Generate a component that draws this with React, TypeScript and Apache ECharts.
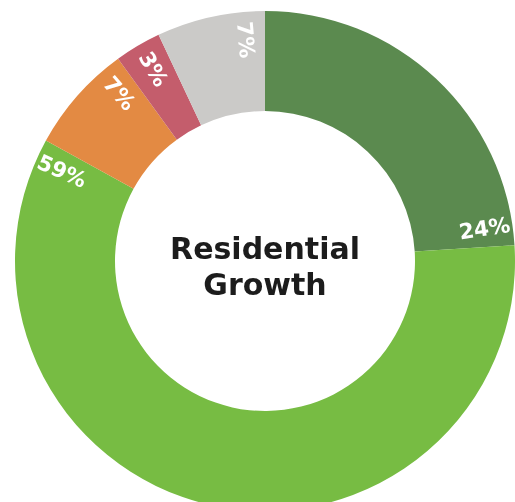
import React, { useEffect, useRef } from "react";
import * as echarts from "echarts";

const categories = ["A", "B", "C", "D", "E"];
const values = [24, 59, 7, 3, 7];
const colors = ["#5b8a4f", "#77bc43", "#e38a43", "#c45d6c", "#cbcac8"];
const titleLines = ["Residential", "Growth"];

const W = 515;
const H = 502;
const CX = 265;
const CY = 261;
const R_IN = 150;
const R_OUT = 250;
const LABEL_R = 222;
const LABEL_BACK_PX = 19;

export default function App() {
  const ref = useRef<HTMLDivElement>(null);
  useEffect(() => {
    if (!ref.current) return;
    const chart = echarts.init(ref.current, null, { renderer: "svg" });
    const total = values.reduce((a, b) => a + b, 0);
    const ends: number[] = [];
    let acc = 0;
    values.forEach((v) => {
      acc += v;
      ends.push((acc / total) * 360);
    });
    const backDeg = (LABEL_BACK_PX / LABEL_R) * (180 / Math.PI);
    chart.setOption({
      animation: false,
      series: [
        {
          type: "pie",
          center: [CX, CY],
          radius: [R_IN, R_OUT],
          startAngle: 90,
          clockwise: true,
          silent: true,
          data: categories.map((c, i) => ({
            name: c,
            value: values[i],
            itemStyle: { color: colors[i] },
          })),
          itemStyle: { borderWidth: 0 },
          label: {
            show: true,
            position: "inside",
            formatter: "{c}%",
            color: "#ffffff",
            fontFamily: "DejaVu Sans",
            fontWeight: "bold",
            fontSize: 21.5,
          },
          labelLine: { show: false },
          labelLayout: (params: any) => {
            const th = ends[params.dataIndex] - backDeg;
            const rad = (th * Math.PI) / 180;
            const x = CX + LABEL_R * Math.sin(rad);
            const y = CY - LABEL_R * Math.cos(rad);
            const rot = th > 180 ? 270 - th : 90 - th;
            return { x, y, rotate: rot, align: "center", verticalAlign: "middle" };
          },
        },
      ],
      graphic: [
        {
          type: "text",
          x: CX,
          y: CY + 5,
          style: {
            text: titleLines.join("\n"),
            align: "center",
            verticalAlign: "middle",
            fontFamily: "DejaVu Sans",
            fontWeight: "bold",
            fontSize: 30,
            lineHeight: 36,
            fill: "#1c1c1c",
          },
        },
      ],
    });
    return () => chart.dispose();
  }, []);
  return (
    <div
      ref={ref}
      style={{ position: "fixed", left: 0, top: 0, width: W, height: H }}
    />
  );
}
